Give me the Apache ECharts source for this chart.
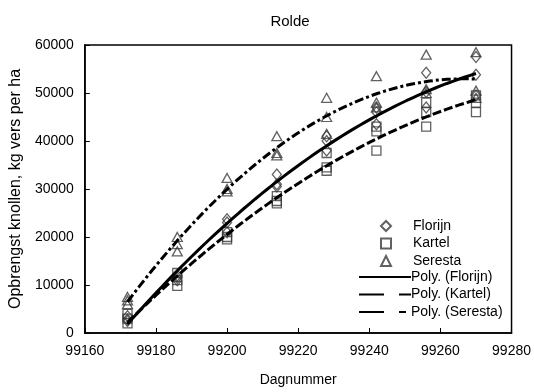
<!DOCTYPE html>
<html>
<head>
<meta charset="utf-8">
<script src="https://cdn.jsdelivr.net/npm/echarts@6/dist/echarts.min.js"></script>
<style>html,body{margin:0;padding:0;background:#fff}#c{width:534px;height:392px}</style>
</head>
<body>
<div id="c"></div>
<script>
const days = [99172, 99186, 99200, 99214, 99228, 99242, 99256, 99270];
const florijn = [
  [3500, 2800, 2500], [12000, 11500, 11000], [23700, 23000, 21000], [33000, 31000, 30500],
  [41000, 40000, 38000], [47000, 46000, 43500], [54200, 50200, 47000], [57500, 53800, 49500]
];
const kartel = [
  [4000, 3000, 2000], [12500, 11000, 9800], [21000, 20000, 19500], [28500, 27500, 27000],
  [37500, 34500, 33800], [43000, 42000, 38000], [48000, 46000, 43000], [49500, 48000, 46000]
];
const seresta = [
  [7500, 6800, 6000], [20000, 18500, 17000], [32300, 30000, 29500], [41000, 37500, 37000],
  [49000, 45000, 41500], [53500, 48000, 47000], [58000, 50800, 50000], [58500, 50500, 49000]
];
const xTicks = [99160, 99180, 99200, 99220, 99240, 99260, 99280];
const yTicks = [0, 10000, 20000, 30000, 40000, 50000, 60000];

function points(reps) {
  const out = [];
  days.forEach((d, i) => reps[i].forEach(v => out.push([d, v])));
  return out;
}
// Excel-style 2nd order polynomial trendline (least squares)
function polyFit(pts) {
  const x0 = days[0];
  let S = [0,0,0,0,0], T = [0,0,0];
  pts.forEach(([x, y]) => {
    const t = x - x0;
    for (let k = 0; k < 5; k++) S[k] += Math.pow(t, k);
    for (let k = 0; k < 3; k++) T[k] += y * Math.pow(t, k);
  });
  const A = [[S[0],S[1],S[2],T[0]],[S[1],S[2],S[3],T[1]],[S[2],S[3],S[4],T[2]]];
  for (let i = 0; i < 3; i++) {
    for (let j = i + 1; j < 3; j++) {
      const f = A[j][i] / A[i][i];
      for (let k = i; k < 4; k++) A[j][k] -= f * A[i][k];
    }
  }
  const c = [0,0,0];
  for (let i = 2; i >= 0; i--) {
    let s = A[i][3];
    for (let k = i + 1; k < 3; k++) s -= A[i][k] * c[k];
    c[i] = s / A[i][i];
  }
  const out = [];
  const xs = days[0], xe = days[days.length - 1];
  for (let n = 0; n <= 60; n++) {
    const x = xs + (xe - xs) * n / 60;
    const t = x - x0;
    out.push([x, c[0] + c[1] * t + c[2] * t * t]);
  }
  return out;
}

const FONT = '"Liberation Sans", Arial, sans-serif';
const markerStyle = { color: 'rgba(255,255,255,0)', borderColor: '#3a3a3a', borderWidth: 1.3 };
const hidden = { color: 'rgba(0,0,0,0)', borderColor: 'rgba(0,0,0,0)', borderWidth: 0 };
const chart = echarts.init(document.getElementById('c'));
chart.setOption({
  animation: false,
  backgroundColor: '#fff',
  title: { text: 'Rolde', left: 285, top: 9, textAlign: 'center',
    textStyle: { fontFamily: FONT, fontSize: 15, fontWeight: 'normal', color: '#000' } },
  grid: { left: 83, right: 22, top: 45, bottom: 58, show: true, borderColor: '#000', borderWidth: 1.5 },
  xAxis: {
    type: 'value', min: 99160, max: 99280, interval: 20,
    name: 'Dagnummer', nameLocation: 'middle', nameGap: 40,
    nameTextStyle: { fontFamily: FONT, fontSize: 14, color: '#000' },
    axisLine: { lineStyle: { color: '#000', width: 1.5 } },
    axisTick: { inside: true, length: 5, lineStyle: { color: '#000' } },
    axisLabel: { fontFamily: FONT, fontSize: 14, color: '#000', margin: 11,
      formatter: v => xTicks.includes(v) ? String(v) : '' },
    splitLine: { show: false }
  },
  yAxis: {
    type: 'value', min: 0, max: 60000, interval: 10000,
    name: 'Opbrengst knollen, kg vers per ha', nameLocation: 'middle', nameGap: 57,
    nameTextStyle: { fontFamily: FONT, fontSize: 16, color: '#000' },
    axisLine: { lineStyle: { color: '#000', width: 1.5 } },
    axisTick: { inside: true, length: 5, lineStyle: { color: '#000' } },
    axisLabel: { fontFamily: FONT, fontSize: 14, color: '#000', margin: 11,
      formatter: v => yTicks.includes(v) ? String(v) : '' },
    splitLine: { show: false }
  },
  legend: [
    {
      orient: 'vertical', left: 375, top: 214, itemWidth: 10, itemHeight: 10, itemGap: 3.5,
      textStyle: { fontFamily: FONT, fontSize: 14, color: '#000', padding: [0, 0, 0, 17] },
      data: ['Florijn', 'Kartel', 'Seresta']
    },
    {
      orient: 'vertical', left: 353, top: 265, itemWidth: 52, itemHeight: 10, itemGap: 3.5,
      textStyle: { fontFamily: FONT, fontSize: 14, color: '#000', padding: [0, 0, 0, -5] },
      data: [
        { name: 'Poly. (Florijn)', itemStyle: hidden },
        { name: 'Poly. (Kartel)', itemStyle: hidden, lineStyle: { type: [25, 15] } },
        { name: 'Poly. (Seresta)', itemStyle: hidden, lineStyle: { type: [25, 15, 7, 20] } }
      ]
    }
  ],
  series: [
    { name: 'Florijn', type: 'scatter', symbol: 'diamond', symbolSize: [9, 11], data: points(florijn), itemStyle: markerStyle },
    { name: 'Kartel', type: 'scatter', symbol: 'rect', symbolSize: 9, data: points(kartel), itemStyle: markerStyle },
    { name: 'Seresta', type: 'scatter', symbol: 'triangle', symbolSize: [10, 9], data: points(seresta), itemStyle: markerStyle },
    { name: 'Poly. (Florijn)', type: 'line', symbol: 'none', data: polyFit(points(florijn)),
      lineStyle: { color: '#000', width: 3 }, itemStyle: { color: '#000' } },
    { name: 'Poly. (Kartel)', type: 'line', symbol: 'none', data: polyFit(points(kartel)),
      lineStyle: { color: '#000', width: 3, type: [9, 3] }, itemStyle: { color: '#000' } },
    { name: 'Poly. (Seresta)', type: 'line', symbol: 'none', data: polyFit(points(seresta)),
      lineStyle: { color: '#000', width: 3, type: [9, 3, 3, 3] }, itemStyle: { color: '#000' } }
  ]
});
</script>
</body>
</html>
